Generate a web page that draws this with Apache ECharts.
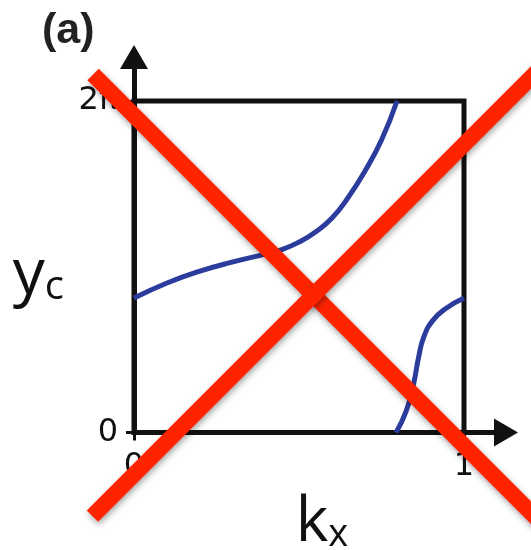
<!DOCTYPE html>
<html>
<head>
<meta charset="utf-8">
<script src="https://cdn.jsdelivr.net/npm/echarts@6/dist/echarts.min.js"></script>
<style>
  html, body { margin: 0; padding: 0; background: #fff; }
  #chart { width: 531px; height: 550px; }
</style>
</head>
<body>
<div id="chart"></div>
<script>
// Band crossing y_c(k_x), in units of pi (0 .. 2)
const bandUpperKx = [0, 0.1, 0.2, 0.3, 0.4, 0.45, 0.5, 0.55, 0.6, 0.65, 0.7, 0.75, 0.797];
const bandUpperYc = [0.811, 0.902, 0.974, 1.029, 1.078, 1.105, 1.149, 1.210, 1.294, 1.421, 1.578, 1.765, 2.0];
const bandLowerKx = [0.794, 0.825, 0.848, 0.862, 0.878, 0.905, 0.945, 1.0];
const bandLowerYc = [0, 0.13, 0.30, 0.45, 0.575, 0.675, 0.748, 0.811];

// Strike-through cross, in the same k_x / y_c units
const crossAKx = [-0.124, 1.321];
const crossAYc = [2.160, -0.718];
const crossBKx = [-0.126, 1.321];
const crossBYc = [-0.504, 2.377];

// Ticks
const xTicks = [0, 1];
const xTickLabels = ['0', '1'];
const yTicks = [0, 2];
const yTickLabels = ['0', '2π'];

const zip = (xs, ys) => xs.map((x, i) => [x, ys[i]]);

const ink = '#111111';
const blue = '#2c3c9c';
const red = '#ff2400';

// plot box in pixels; the overlay grid shares its scale but spans past the canvas
const box = { left: 134, top: 101, width: 330, height: 331.5 };
const pxPerX = box.width / 1;
const pxPerY = box.height / 2;
const overlayX = [-0.5, 1.5];
const overlayY = [-1, 3];

const chart = echarts.init(document.getElementById('chart'), null, { renderer: 'canvas' });

const hiddenAxis = { axisLine: { show: false }, axisTick: { show: false }, axisLabel: { show: false }, splitLine: { show: false } };
const freeGrid = { containLabel: false, outerBoundsMode: 'none' };

chart.setOption({
  animation: false,
  backgroundColor: '#ffffff',
  title: {
    text: '(a)',
    left: 37,
    top: 5,
    textStyle: { fontFamily: 'Liberation Sans', fontWeight: 'bold', fontSize: 43, color: '#222' }
  },
  grid: [
    Object.assign({ // framed plot box
      left: box.left, top: box.top, width: box.width, height: box.height,
      show: true, borderColor: ink, borderWidth: 5, backgroundColor: 'transparent'
    }, freeGrid),
    Object.assign({ // axis arrows
      left: box.left, top: 57, width: 372, height: box.top + box.height - 57, show: false
    }, freeGrid),
    Object.assign({ // overlay for the cross, same scale as the plot box
      left: box.left + overlayX[0] * pxPerX,
      top: box.top + box.height - overlayY[1] * pxPerY,
      width: (overlayX[1] - overlayX[0]) * pxPerX,
      height: (overlayY[1] - overlayY[0]) * pxPerY,
      show: false
    }, freeGrid)
  ],
  xAxis: [
    {
      gridIndex: 0, type: 'value', min: xTicks[0], max: xTicks[xTicks.length - 1], interval: xTicks[1] - xTicks[0],
      axisLine: { show: false },
      axisTick: { show: true, length: 8, lineStyle: { color: ink, width: 3 } },
      splitLine: { show: false },
      axisLabel: {
        margin: 18, fontFamily: 'DejaVu Sans', fontSize: 32, color: ink,
        alignMinLabel: 'center', alignMaxLabel: 'center',
        formatter: v => xTickLabels[xTicks.indexOf(v)]
      },
      name: '{m|k}{s|x}',
      nameLocation: 'middle',
      nameGap: 56,
      nameTextStyle: {
        padding: [0, 0, 0, 46],
        rich: {
          m: { fontFamily: 'Open Sans', fontSize: 62, color: ink, verticalAlign: 'bottom', lineHeight: 66 },
          s: { fontFamily: 'Open Sans', fontSize: 38, color: ink, verticalAlign: 'bottom', lineHeight: 50 }
        }
      }
    },
    Object.assign({ gridIndex: 1, type: 'value', min: 0, max: 1 }, hiddenAxis, {
      axisLine: { show: true, symbol: ['none', 'triangle'], symbolSize: [28, 24], lineStyle: { color: ink, width: 5 } }
    }),
    Object.assign({ gridIndex: 2, type: 'value', min: overlayX[0], max: overlayX[1] }, hiddenAxis)
  ],
  yAxis: [
    {
      gridIndex: 0, type: 'value', min: yTicks[0], max: yTicks[yTicks.length - 1], interval: yTicks[1] - yTicks[0],
      axisLine: { show: false },
      axisTick: { show: true, length: 8, lineStyle: { color: ink, width: 3 } },
      splitLine: { show: false },
      axisLabel: {
        margin: 16, fontFamily: 'DejaVu Sans', fontSize: 32, color: ink,
        verticalAlignMinLabel: 'middle', verticalAlignMaxLabel: 'middle',
        formatter: v => yTickLabels[yTicks.indexOf(v)]
      },
      name: '{m|y}{s|c}',
      nameLocation: 'middle',
      nameRotate: 0,
      nameGap: 70,
      nameTextStyle: {
        padding: [16, 0, 0, 0],
        rich: {
          m: { fontFamily: 'Open Sans', fontSize: 64, color: ink, verticalAlign: 'bottom', lineHeight: 66 },
          s: { fontFamily: 'Open Sans', fontSize: 40, color: ink, verticalAlign: 'bottom', lineHeight: 50 }
        }
      }
    },
    Object.assign({ gridIndex: 1, type: 'value', min: 0, max: 1 }, hiddenAxis, {
      axisLine: { show: true, symbol: ['none', 'triangle'], symbolSize: [28, 24], lineStyle: { color: ink, width: 5 } }
    }),
    Object.assign({ gridIndex: 2, type: 'value', min: overlayY[0], max: overlayY[1] }, hiddenAxis)
  ],
  series: [
    {
      type: 'line', xAxisIndex: 0, yAxisIndex: 0, z: 3,
      data: zip(bandUpperKx, bandUpperYc),
      smooth: true, showSymbol: false, clip: true,
      lineStyle: { color: blue, width: 5 }
    },
    {
      type: 'line', xAxisIndex: 0, yAxisIndex: 0, z: 3,
      data: zip(bandLowerKx, bandLowerYc),
      smooth: true, showSymbol: false, clip: true,
      lineStyle: { color: blue, width: 5 }
    },
    {
      type: 'line', xAxisIndex: 2, yAxisIndex: 2, z: 10,
      data: zip(crossAKx, crossAYc),
      showSymbol: false,
      lineStyle: { color: red, width: 16, cap: 'butt', shadowColor: 'rgba(0,0,0,0.35)', shadowBlur: 6, shadowOffsetX: 1, shadowOffsetY: 3 }
    },
    {
      type: 'line', xAxisIndex: 2, yAxisIndex: 2, z: 10,
      data: zip(crossBKx, crossBYc),
      showSymbol: false,
      lineStyle: { color: red, width: 16, cap: 'butt', shadowColor: 'rgba(0,0,0,0.35)', shadowBlur: 6, shadowOffsetX: 1, shadowOffsetY: 3 }
    }
  ]
});
</script>
</body>
</html>
